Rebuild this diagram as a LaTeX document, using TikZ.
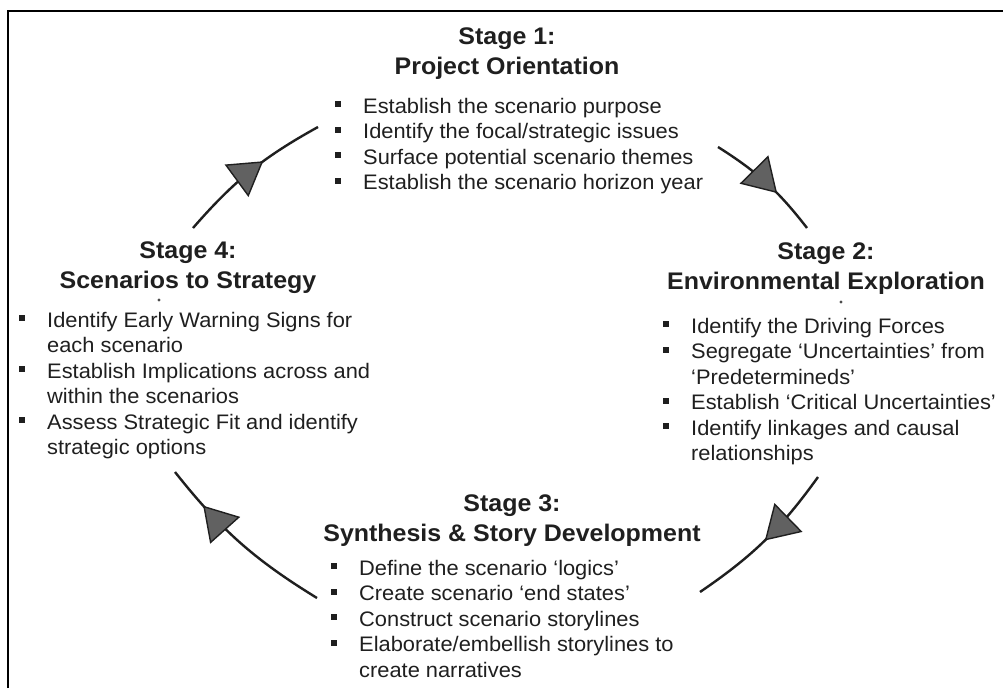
\documentclass[tikz,border=0pt]{standalone}
\usepackage{fontspec}
\setmainfont{Liberation Sans}[FakeStretch=1.04]
\usetikzlibrary{arrows.meta,decorations.markings}
\newcommand\bulsq{\makebox[28pt][l]{\raisebox{6pt}{\rule{6pt}{6pt}}}}
\newcommand\contind{\makebox[28pt]{}}
\tikzset{
  stagetitle/.style={font=\fontsize{24}{30}\selectfont\bfseries, align=center, anchor=north, inner sep=0pt, text=black!88},
  stagebody/.style={font=\fontsize{21}{25.5}\selectfont, align=left, anchor=north west, inner sep=0pt, text=black!88},
  cyc/.style={line width=2.4pt, draw=black!88, bend left=10, postaction={decorate},
    decoration={markings, mark=at position #1 with {\arrow{Triangle[length=33pt,width=40pt,fill=black!62,line width=1.4pt]}}}},
  speck/.style={fill=black!70, draw=none},
}
\begin{document}
\begin{tikzpicture}[x=1pt,y=-1pt]
\useasboundingbox (0,0) rectangle (1003,688);
\fill[white] (0,0) rectangle (1003,688);
\draw[line width=2pt] (8,688) -- (8,11) -- (1003,11);

% Stage 1
\node[stagetitle] (s1t) at (507,23) {\strut Stage 1:\\Project Orientation};
\node[stagebody] (s1b) at (335,95) {\strut\bulsq Establish the scenario purpose\\
\bulsq Identify the focal/strategic issues\\
\bulsq Surface potential scenario themes\\
\bulsq Establish the scenario horizon year};

% Stage 2
\node[stagetitle] (s2t) at (826,238) {\strut Stage 2:\\Environmental Exploration};
\fill[speck] (841,302) circle (1.6);
\node[stagebody] (s2b) at (663,315) {\strut\bulsq Identify the Driving Forces\\
\bulsq Segregate ‘Uncertainties’ from\\
\contind ‘Predetermineds’\\
\bulsq Establish ‘Critical Uncertainties’\\
\bulsq Identify linkages and causal\\
\contind relationships};

% Stage 3
\node[stagetitle] (s3t) at (512,490) {\strut Stage 3:\\Synthesis \& Story Development};
\node[stagebody] (s3b) at (331,557) {\strut\bulsq Define the scenario ‘logics’\\
\bulsq Create scenario ‘end states’\\
\bulsq Construct scenario storylines\\
\bulsq Elaborate/embellish storylines to\\
\contind create narratives};

% Stage 4
\node[stagetitle] (s4t) at (188,237) {\strut Stage 4:\\Scenarios to Strategy};
\fill[speck] (159,300) circle (1.6);
\node[stagebody] (s4b) at (19,309) {\strut\bulsq Identify Early Warning Signs for\\
\contind each scenario\\
\bulsq Establish Implications across and\\
\contind within the scenarios\\
\bulsq Assess Strategic Fit and identify\\
\contind strategic options};

% cycle arrows
\coordinate (a1s) at (193,228); \coordinate (a1e) at (318,127);
\coordinate (a2s) at (718,147); \coordinate (a2e) at (807,228);
\coordinate (a3s) at (818,477); \coordinate (a3e) at (700,592);
\coordinate (a4s) at (317,598); \coordinate (a4e) at (175,472);
\draw[cyc=0.6] (a1s) to (a1e);
\draw[cyc=0.62] (a2s) to (a2e);
\draw[cyc=0.5] (a3s) to (a3e);
\draw[cyc=0.77] (a4s) to (a4e);
\end{tikzpicture}
\end{document}
